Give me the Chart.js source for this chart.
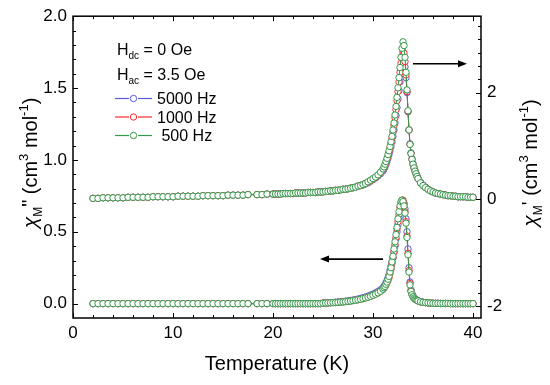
<!DOCTYPE html>
<html><head><meta charset="utf-8">
<script src="https://cdn.jsdelivr.net/npm/chart.js@4.4.1/dist/chart.umd.min.js"></script>
<style>html,body{margin:0;padding:0;background:#fff}#wrap{width:550px;height:385px}</style>
</head><body><div id="wrap"><canvas id="c" width="550" height="385"></canvas></div>
<script>
// ---------- DATA ----------
const temperature = [
2,2.5,3,3.5,4,4.5,5,5.5,6,6.5,7,7.5,8,8.5,9,9.5,10,10.5,11,11.5,12,12.5,13,13.5,14,14.5,15,15.5,16,16.5,17,17.5,
18.4,18.9,19.4,
20,20.25,20.5,20.75,21,21.25,21.5,21.75,22,22.25,22.5,22.75,23,23.25,23.5,23.75,24,24.25,24.5,24.75,25,25.25,25.5,25.75,26,26.25,26.5,26.75,27,27.25,27.5,27.75,28,28.25,28.5,28.75,29,29.25,29.5,29.75,30,30.25,30.5,30.75,
31,31.1,31.2,31.3,31.4,31.5,31.6,31.7,31.8,31.9,32,32.1,32.2,32.3,32.4,32.5,32.6,32.7,32.8,32.9,33,33.1,33.2,33.3,33.4,33.5,33.6,33.7,33.8,33.9,34,34.1,34.2,34.3,34.4,34.5,
34.75,35,35.25,35.5,35.75,36,36.25,36.5,36.75,37,37.25,37.5,37.75,38,38.25,38.5,38.75,39,39.25,39.5,39.75,40
];

// chi' (right axis), cm3 mol-1
const chiRe500 = [
0.02,0.02,0.03,0.03,0.03,0.03,0.03,0.04,0.04,0.04,0.04,0.04,0.05,0.05,0.05,0.05,0.05,0.06,0.06,0.06,0.06,0.06,0.07,0.07,0.07,0.07,0.07,0.08,0.08,0.08,0.08,0.09,
0.09,0.09,0.10,
0.10,0.10,0.10,0.10,0.11,0.11,0.11,0.11,0.11,0.12,0.12,0.12,0.12,0.12,0.13,0.13,0.13,0.13,0.14,0.14,0.14,0.15,0.15,0.16,0.16,0.17,0.17,0.18,0.19,0.19,0.20,0.21,0.22,0.23,0.25,0.26,0.28,0.30,0.33,0.36,0.39,0.42,0.46,0.51,
0.57,0.61,0.66,0.71,0.77,0.84,0.91,0.99,1.08,1.18,1.30,1.43,1.58,1.74,1.91,2.09,2.28,2.47,2.66,2.83,2.95,2.88,2.66,2.38,2.05,1.66,1.30,1.03,0.86,0.75,0.66,0.59,0.53,0.48,0.43,0.39,
0.31,0.26,0.22,0.19,0.16,0.14,0.12,0.11,0.10,0.09,0.08,0.07,0.07,0.06,0.06,0.05,0.05,0.05,0.05,0.04,0.04,0.04
];
const chiRe1000 = [
0.02,0.02,0.03,0.03,0.03,0.03,0.03,0.04,0.04,0.04,0.04,0.04,0.05,0.05,0.05,0.05,0.05,0.06,0.06,0.06,0.06,0.06,0.07,0.07,0.07,0.07,0.07,0.08,0.08,0.08,0.08,0.09,
0.09,0.09,0.10,
0.10,0.10,0.10,0.10,0.11,0.11,0.11,0.11,0.11,0.12,0.12,0.12,0.12,0.12,0.13,0.13,0.13,0.13,0.14,0.14,0.14,0.15,0.15,0.16,0.16,0.17,0.17,0.18,0.19,0.19,0.20,0.21,0.22,0.23,0.25,0.26,0.28,0.30,0.32,0.35,0.38,0.41,0.45,0.50,
0.56,0.60,0.64,0.69,0.75,0.81,0.88,0.96,1.05,1.15,1.26,1.39,1.53,1.68,1.85,2.02,2.20,2.38,2.55,2.68,2.76,2.74,2.58,2.33,2.02,1.65,1.30,1.03,0.86,0.75,0.66,0.59,0.53,0.48,0.43,0.39,
0.31,0.26,0.22,0.19,0.16,0.14,0.12,0.11,0.10,0.09,0.08,0.07,0.07,0.06,0.06,0.05,0.05,0.05,0.05,0.04,0.04,0.04
];
const chiRe5000 = [
0.02,0.02,0.03,0.03,0.03,0.03,0.03,0.04,0.04,0.04,0.04,0.04,0.05,0.05,0.05,0.05,0.05,0.06,0.06,0.06,0.06,0.06,0.07,0.07,0.07,0.07,0.07,0.08,0.08,0.08,0.08,0.09,
0.09,0.09,0.10,
0.10,0.10,0.10,0.10,0.11,0.11,0.11,0.11,0.11,0.12,0.12,0.12,0.12,0.12,0.13,0.13,0.13,0.13,0.14,0.14,0.14,0.15,0.15,0.16,0.16,0.17,0.17,0.18,0.19,0.19,0.20,0.21,0.22,0.23,0.25,0.26,0.27,0.29,0.31,0.34,0.37,0.40,0.44,0.48,
0.53,0.57,0.61,0.66,0.71,0.77,0.84,0.91,0.99,1.08,1.18,1.30,1.43,1.57,1.72,1.88,2.04,2.20,2.35,2.47,2.55,2.58,2.48,2.28,2.00,1.64,1.30,1.04,0.87,0.76,0.67,0.60,0.54,0.49,0.44,0.40,
0.32,0.27,0.23,0.19,0.16,0.14,0.12,0.11,0.10,0.09,0.08,0.07,0.07,0.06,0.06,0.05,0.05,0.05,0.05,0.04,0.04,0.04
];

// chi'' (left axis), cm3 mol-1
const chiIm500 = [
0,0,0,0,0,0,0,0,0,0,0,0,0,0,0,0,0,0,0,0,0,0,0,0,0,0,0,0,0,0,0,0,
0,0,0,
0,0,0,0,0,0,0,0,0,0,0,0,0,0,0,0,0,0,0,0,0.003,0.004,0.005,0.006,0.007,0.008,0.009,0.011,0.012,0.014,0.016,0.018,0.021,0.024,0.027,0.031,0.035,0.040,0.045,0.051,0.058,0.066,0.075,0.086,
0.10,0.11,0.12,0.135,0.15,0.17,0.19,0.22,0.25,0.29,0.33,0.38,0.43,0.48,0.53,0.59,0.64,0.68,0.71,0.72,0.71,0.68,0.63,0.56,0.46,0.34,0.22,0.13,0.085,0.062,0.048,0.039,0.032,0.027,0.023,0.019,
0.013,0.009,0.007,0.005,0.004,0.003,0.002,0.002,0.001,0.001,0.001,0.001,0,0,0,0,0,0,0,0,0,0
];
const chiIm1000 = [
0,0,0,0,0,0,0,0,0,0,0,0,0,0,0,0,0,0,0,0,0,0,0,0,0,0,0,0,0,0,0,0,
0,0,0,
0,0,0,0,0,0,0,0,0,0,0,0,0,0,0,0,0,0,0,0,0.003,0.004,0.005,0.006,0.007,0.008,0.009,0.011,0.012,0.014,0.016,0.018,0.021,0.024,0.027,0.031,0.035,0.040,0.045,0.051,0.058,0.066,0.075,0.086,
0.10,0.11,0.12,0.13,0.15,0.16,0.18,0.21,0.24,0.28,0.32,0.36,0.41,0.46,0.52,0.57,0.62,0.67,0.70,0.72,0.72,0.69,0.64,0.57,0.47,0.35,0.23,0.14,0.09,0.065,0.05,0.04,0.033,0.028,0.023,0.019,
0.013,0.009,0.007,0.005,0.004,0.003,0.002,0.002,0.001,0.001,0.001,0.001,0,0,0,0,0,0,0,0,0,0
];
const chiIm5000 = [
0,0,0,0,0,0,0,0,0,0,0,0,0,0,0,0,0,0,0,0,0,0,0,0,0,0,0,0,0,0,0,0,
0,0,0,
0,0,0,0,0,0,0,0,0,0,0,0,0,0,0,0,0,0,0,0,0.004,0.005,0.006,0.007,0.008,0.010,0.011,0.013,0.015,0.017,0.019,0.022,0.025,0.028,0.032,0.036,0.041,0.046,0.052,0.059,0.066,0.075,0.085,0.097,
0.11,0.12,0.13,0.145,0.16,0.18,0.20,0.23,0.26,0.29,0.32,0.36,0.40,0.45,0.50,0.55,0.60,0.64,0.67,0.70,0.71,0.70,0.66,0.59,0.50,0.38,0.25,0.15,0.095,0.068,0.052,0.042,0.034,0.028,0.024,0.02,
0.014,0.01,0.007,0.005,0.004,0.003,0.002,0.002,0.001,0.001,0.001,0.001,0,0,0,0,0,0,0,0,0,0
];

const xTickValues = [0, 10, 20, 30, 40];
const yLeftTickValues = [0, 0.5, 1.0, 1.5, 2.0];
const yRightTickValues = [-2, 0, 2];
const seriesLabels = ['5000 Hz', '1000 Hz', ' 500 Hz'];
const fieldLines = [['H', 'dc', ' = 0 Oe'], ['H', 'ac', ' = 3.5 Oe']];
const xTitle = 'Temperature (K)';

// ---------- STYLE ----------
const FONT = '"Liberation Sans", Arial, Helvetica, sans-serif';
const C5000 = '#5a5ad8', C1000 = '#ff2a2a', C500 = '#34994a';

function pts(ys) { return temperature.map((t, i) => ({x: t, y: ys[i]})); }
function ds(label, ys, color, axis) {
  return {label, data: pts(ys), yAxisID: axis, borderColor: color, borderWidth: 1,
    pointRadius: 3.2, pointBorderWidth: 1, pointBackgroundColor: '#ffffff', pointBorderColor: color,
    fill: false, tension: 0};
}

function drawRuns(ctx, runs, x, y, align) {
  let total = 0;
  runs.forEach(r => { ctx.font = (r.italic ? 'italic ' : '') + r.size + 'px ' + FONT; r.w = ctx.measureText(r.t).width; total += r.w; });
  let cx = align === 'center' ? x - total / 2 : x;
  runs.forEach(r => {
    ctx.font = (r.italic ? 'italic ' : '') + r.size + 'px ' + FONT;
    ctx.fillText(r.t, cx, y + (r.dy || 0));
    cx += r.w;
  });
}

function line(ctx, x1, y1, x2, y2) { ctx.beginPath(); ctx.moveTo(x1, y1); ctx.lineTo(x2, y2); ctx.stroke(); }

function arrow(ctx, x1, y, x2) {
  ctx.strokeStyle = '#000'; ctx.fillStyle = '#000'; ctx.lineWidth = 1.6;
  const dir = Math.sign(x2 - x1);
  line(ctx, x1, y, x2 - dir * 7, y);
  ctx.beginPath(); ctx.moveTo(x2, y); ctx.lineTo(x2 - dir * 9, y - 3.5); ctx.lineTo(x2 - dir * 9, y + 3.5); ctx.closePath(); ctx.fill();
}

const decor = {
  id: 'decor',
  afterDatasetsDraw(chart) {
    const ctx = chart.ctx; const {left, right, top, bottom} = chart.chartArea;
    const xs = chart.scales.x, yl = chart.scales.y, yr = chart.scales.y2;
    ctx.save();
    // arrows (data coordinates)
    arrow(ctx, xs.getPixelForValue(34.0), yr.getPixelForValue(2.54), xs.getPixelForValue(39.4));
    arrow(ctx, xs.getPixelForValue(31.0), yl.getPixelForValue(0.31), xs.getPixelForValue(24.7));
    // inward ticks
    ctx.strokeStyle = '#000'; ctx.lineWidth = 1;
    for (let i = 0; i <= 20; i++) {
      const px = Math.round(xs.getPixelForValue(i * 2)) + 0.5; const L = i % 5 === 0 ? 5 : 3;
      line(ctx, px, bottom, px, bottom - L); line(ctx, px, top, px, top + L);
    }
    for (let i = 0; i <= 20; i++) {
      const py = Math.round(yl.getPixelForValue(i * 0.1)) + 0.5; const L = i % 5 === 0 ? 5 : 3;
      line(ctx, left, py, left + L, py);
    }
    for (let i = -8; i <= 13; i++) {
      const v = i * 0.25; if (v < yr.min || v > yr.max) continue;
      const py = Math.round(yr.getPixelForValue(v)) + 0.5; const L = i % 8 === 0 ? 5 : 3;
      line(ctx, right, py, right - L, py);
    }
    // frame
    ctx.lineWidth = 1.5; ctx.strokeRect(left, top, right - left, bottom - top);
    // field text
    ctx.fillStyle = '#000'; ctx.textBaseline = 'alphabetic';
    fieldLines.forEach((f, k) => {
      drawRuns(ctx, [{t: f[0], size: 16}, {t: f[1], size: 10, dy: 4}, {t: f[2], size: 16}], 117, 55 + k * 25, 'left');
    });
    // legend
    const cols = [C5000, C1000, C500];
    seriesLabels.forEach((lab, k) => {
      const yb = 104 + k * 18.5; const yc = yb - 5.5;
      ctx.strokeStyle = cols[k]; ctx.lineWidth = 1.2;
      line(ctx, 115, yc, 129, yc); line(ctx, 138, yc, 152, yc);
      ctx.beginPath(); ctx.arc(133.5, yc, 3.2, 0, Math.PI * 2); ctx.fillStyle = '#fff'; ctx.fill(); ctx.lineWidth = 1; ctx.stroke();
      ctx.fillStyle = '#000'; ctx.font = '16px ' + FONT; ctx.fillText(lab, 157, yb);
    });
    // axis titles
    ctx.font = '20px ' + FONT; ctx.textAlign = 'center';
    ctx.fillText(xTitle, (left + right) / 2, 370);
    ctx.textAlign = 'left';
    ctx.save(); ctx.translate(37, 163); ctx.rotate(-Math.PI / 2);
    drawRuns(ctx, [{t: 'χ', size: 21, italic: true}, {t: 'M', size: 12, dy: 5}, {t: '"', size: 20, dy: -1}, {t: ' (cm', size: 20}, {t: '3', size: 13, dy: -9}, {t: ' mol', size: 20}, {t: '-1', size: 13, dy: -9}, {t: ')', size: 20}], 0, 0, 'center');
    ctx.restore();
    ctx.save(); ctx.translate(537, 163); ctx.rotate(-Math.PI / 2);
    drawRuns(ctx, [{t: 'χ', size: 21, italic: true}, {t: 'M', size: 12, dy: 5}, {t: "'", size: 20, dy: -1}, {t: ' (cm', size: 20}, {t: '3', size: 13, dy: -9}, {t: ' mol', size: 20}, {t: '-1', size: 13, dy: -9}, {t: ')', size: 20}], 0, 0, 'center');
    ctx.restore();
    ctx.restore();
  }
};

const tickFont = {family: FONT, size: 17};
new Chart(document.getElementById('c'), {
  type: 'line',
  data: {datasets: [
    ds('500 Hz', chiRe500, C500, 'y2'),
    ds('1000 Hz', chiRe1000, C1000, 'y2'),
    ds('5000 Hz', chiRe5000, C5000, 'y2'),
    ds('500 Hz', chiIm500, C500, 'y'),
    ds('1000 Hz', chiIm1000, C1000, 'y'),
    ds('5000 Hz', chiIm5000, C5000, 'y')
  ]},
  options: {
    responsive: false, animation: false, devicePixelRatio: 1,
    layout: {padding: {top: 15, left: 0, right: 0, bottom: 0}},
    plugins: {legend: {display: false}, tooltip: {enabled: false}},
    scales: {
      x: {type: 'linear', position: 'bottom', min: 0, max: 40.8,
        afterBuildTicks: s => { s.ticks = xTickValues.map(v => ({value: v})); },
        afterFit: s => { s.height = 67; },
        grid: {display: false, drawTicks: false}, border: {display: false},
        ticks: {color: '#000', font: tickFont, padding: 5, maxRotation: 0, autoSkip: false, callback: v => String(v)}},
      y: {type: 'linear', position: 'left', min: -0.1, max: 2.0,
        afterBuildTicks: s => { s.ticks = yLeftTickValues.map(v => ({value: v})); },
        afterFit: s => { s.width = 73; },
        grid: {display: false, drawTicks: false}, border: {display: false},
        ticks: {color: '#000', font: tickFont, padding: 6, autoSkip: false, callback: v => Number(v).toFixed(1)}},
      y2: {type: 'linear', position: 'right', min: -2.22, max: 3.43,
        afterBuildTicks: s => { s.ticks = yRightTickValues.map(v => ({value: v})); },
        afterFit: s => { s.width = 69; },
        grid: {display: false, drawTicks: false}, border: {display: false},
        ticks: {color: '#000', font: tickFont, padding: 6, autoSkip: false, callback: v => String(v)}}
    }
  },
  plugins: [decor]
});
</script></body></html>
